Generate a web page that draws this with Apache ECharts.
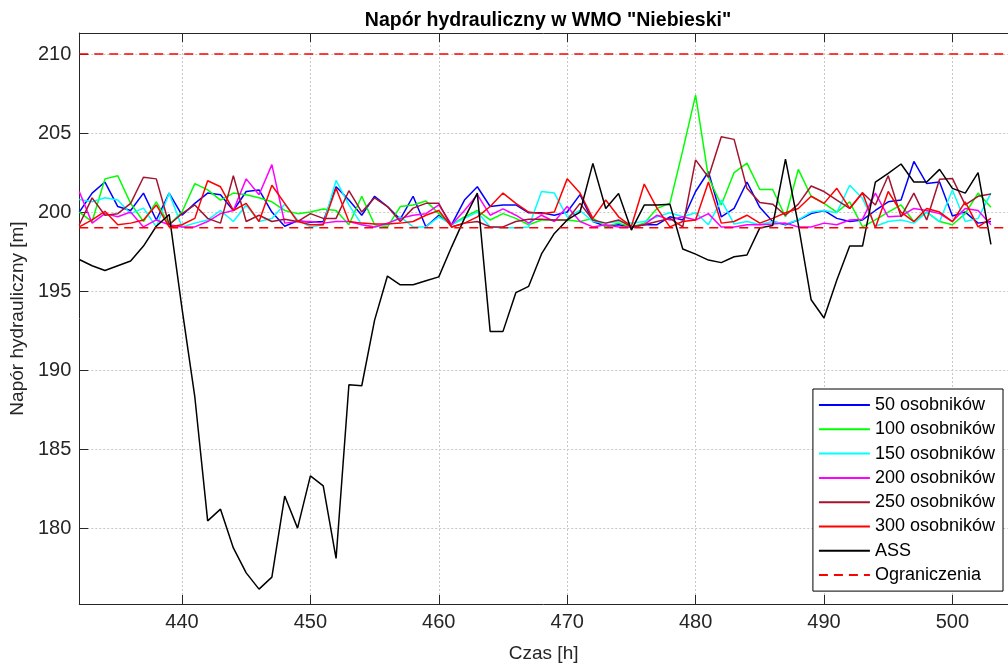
<!DOCTYPE html>
<html>
<head>
<meta charset="utf-8">
<script src="https://cdn.jsdelivr.net/npm/echarts@6/dist/echarts.min.js"></script>
<style>
html,body{margin:0;padding:0;background:#fff;}
#chart{width:1008px;height:668px;}
</style>
</head>
<body>
<div id="chart"></div>
<script>
// ---- data ----
const hours = [432,433,434,435,436,437,438,439,440,441,442,443,444,445,446,447,448,449,450,451,452,453,454,455,456,457,458,459,460,461,462,463,464,465,466,467,468,469,470,471,472,473,474,475,476,477,478,479,480,481,482,483,484,485,486,487,488,489,490,491,492,493,494,495,496,497,498,499,500,501,502,503];

const s50 = [200.0,201.2,201.9,200.35,200.1,201.2,199.5,201.2,199.8,200.55,201.2,201.1,200.1,201.3,201.4,200.0,199.1,199.45,199.35,199.4,201.6,200.76,199.8,201.0,200.35,199.55,201.0,199.06,199.8,199.2,200.76,201.6,200.35,200.45,200.45,199.95,199.95,199.8,200.0,201.1,199.4,199.1,199.2,199.06,199.2,199.2,199.7,199.5,201.3,202.55,199.7,200.23,201.9,200.3,199.4,199.2,199.5,199.9,200.1,199.6,199.4,199.5,200.1,200.65,200.76,203.2,201.8,201.9,199.75,200.0,199.3,199.4];

const s100 = [200.0,199.4,202.1,202.3,200.55,199.4,200.65,199.2,200.0,201.8,201.4,200.76,201.2,201.1,200.9,200.65,200.1,199.9,200.0,200.2,200.1,199.2,201.0,199.2,199.06,200.35,200.45,200.7,199.9,199.2,199.7,200.1,199.5,199.9,199.6,199.2,199.5,199.5,199.5,199.4,199.6,199.1,199.3,199.06,199.3,200.23,200.55,203.9,207.4,202.2,200.45,202.5,203.1,201.43,201.43,199.7,202.7,201.0,200.55,200.0,200.65,199.06,199.5,200.0,200.45,199.4,200.0,199.4,199.2,199.9,201.2,200.3];

const s150 = [200.8,200.65,200.9,200.76,199.9,200.25,199.06,201.2,199.06,199.3,199.5,200.1,199.4,200.45,199.4,199.6,200.5,199.5,199.06,199.2,202.0,200.45,199.2,199.06,199.2,199.7,199.06,199.06,199.7,199.2,199.6,200.0,199.06,199.0,199.0,199.06,201.3,201.2,199.7,200.1,199.4,199.3,199.4,199.3,199.4,199.7,199.96,199.7,199.96,199.2,200.76,199.24,199.4,199.2,199.4,199.25,199.5,200.0,200.1,199.96,201.7,200.86,199.1,199.4,199.5,199.3,200.0,199.4,201.4,199.4,199.6,201.2];

const s200 = [201.3,199.3,199.9,199.7,200.0,199.06,199.5,199.2,199.06,199.06,199.4,199.9,200.1,202.1,201.1,203.0,199.3,199.4,199.4,199.3,199.4,199.4,199.2,199.06,199.3,199.6,199.8,199.9,200.45,199.2,200.1,201.1,199.8,200.2,199.8,199.3,199.8,199.4,200.35,199.4,199.06,199.2,199.06,199.06,199.2,199.8,199.5,199.7,199.5,199.9,199.06,199.06,199.2,199.2,199.24,199.3,199.06,199.06,199.3,199.2,199.5,199.55,201.2,199.7,199.75,200.23,200.1,199.9,199.4,200.23,200.1,199.2];

const s250 = [199.2,200.9,199.8,199.9,200.55,202.2,202.1,199.2,199.9,200.45,199.6,199.3,202.3,199.4,199.8,199.4,199.55,199.4,199.9,199.6,199.6,201.35,200.0,200.9,200.35,199.4,200.25,200.55,200.55,199.06,199.3,199.4,199.06,199.06,199.4,199.55,199.55,199.5,199.5,200.55,199.5,199.3,199.5,199.06,199.2,199.4,199.6,199.06,203.3,202.2,204.77,204.6,201.5,200.6,200.5,199.8,200.5,201.65,201.3,200.76,200.23,201.22,200.45,202.3,199.7,201.2,199.5,202.07,202.13,200.45,201.0,201.14];

const s300 = [199.06,199.5,200.05,199.2,199.3,199.5,200.45,199.06,199.2,199.6,201.98,201.6,200.1,200.55,199.4,201.7,200.55,199.4,199.2,199.2,201.5,199.4,199.3,199.25,199.25,199.3,199.4,199.8,200.1,199.06,199.3,199.7,200.35,201.2,200.55,200.0,199.9,200.0,202.1,201.2,199.6,200.76,199.7,199.1,201.77,200.23,199.06,199.4,199.5,201.9,199.3,199.4,199.8,199.3,199.6,199.96,200.23,201.0,200.55,201.5,200.23,201.22,199.0,201.3,200.0,199.4,200.23,200.0,199.4,200.65,199.06,199.6];

const sASS = [197.0,196.6,196.3,196.6,196.9,197.85,199.1,199.85,193.9,188.3,180.46,181.2,178.75,177.17,176.14,176.9,182.03,180.0,183.31,182.68,178.08,189.07,189.01,193.16,195.95,195.4,195.4,195.65,195.9,197.8,199.6,201.2,192.45,192.45,194.9,195.3,197.35,198.65,199.5,200.0,203.08,200.23,201.18,198.86,200.44,200.44,200.5,197.66,197.34,196.96,196.8,197.17,197.28,199.0,199.15,203.35,199.2,194.45,193.3,195.7,197.85,197.85,201.9,202.45,203.04,201.9,201.9,202.7,201.5,201.2,202.5,197.96];

const limitLow = 199;
const limitHigh = 210;

const xTicks = [440,450,460,470,480,490,500];
const yTicks = [180,185,190,195,200,205,210];

const seriesNames = ['50 osobników','100 osobników','150 osobników','200 osobników','250 osobników','300 osobników','ASS','Ograniczenia'];
const seriesColors = ['#0000ff','#00ff00','#00ffff','#ff00ff','#a2142f','#ff0000','#000000','#ff0000'];

const xMin = 432, xMax = 504.33;
const yMin = 175.2, yMax = 211.33;

// ---- chart ----
const chart = echarts.init(document.getElementById('chart'), null, {renderer:'canvas'});
const FONT = 'Liberation Sans, Arial, sans-serif';

function pairs(vals){ return hours.map((h,i)=>[h, vals[i]]); }
const dataSets = [s50,s100,s150,s200,s250,s300,sASS];

const series = dataSets.map((vals,i)=>({
  name: seriesNames[i],
  type:'line',
  data: pairs(vals),
  showSymbol:false,
  symbol:'none',
  lineStyle:{width:1.5,color:seriesColors[i]},
  itemStyle:{color:seriesColors[i]},
  animation:false,
  z: 2
}));
[limitLow, limitHigh].forEach(v=>{
  series.push({
    name: seriesNames[7],
    type:'line',
    data: [[xMin, v],[xMax, v]],
    showSymbol:false,
    symbol:'none',
    lineStyle:{width:1.5,color:seriesColors[7],type:[9,6]},
    itemStyle:{color:seriesColors[7]},
    animation:false,
    z: 3
  });
});

const gridLine = {show:true, lineStyle:{color:'#c8c8c8', width:1, type:[2,2]}};

chart.setOption({
  backgroundColor:'#ffffff',
  animation:false,
  title:{
    text:'Napór hydrauliczny w WMO "Niebieski"',
    left: 543, top: 6, textAlign:'center',
    textStyle:{fontFamily:FONT, fontSize:19.5, fontWeight:'bold', color:'#000'}
  },
  legend:{
    orient:'vertical',
    right:5, top:389,
    data: seriesNames,
    itemWidth:51, itemHeight:14, itemGap:6.3,
    padding:[7,8,7,5],
    backgroundColor:'#ffffff',
    borderColor:'#000000', borderWidth:1,
    itemStyle:{opacity:0, borderWidth:0},
    textStyle:{fontFamily:FONT, fontSize:18, color:'#000', lineHeight:18}
  },
  grid:{left:78, right:0, top:33, bottom:64, containLabel:false},
  xAxis:[{
    type:'value', min:xMin, max:xMax,
    name:'Czas [h]', nameLocation:'middle', nameGap:40,
    nameTextStyle:{fontFamily:FONT, fontSize:19, color:'#262626'},
    axisLine:{show:true, onZero:false, lineStyle:{color:'#262626', width:1}},
    axisTick:{show:true, inside:true, length:9, customValues:xTicks, lineStyle:{color:'#262626'}},
    axisLabel:{customValues:xTicks, margin:8, fontFamily:FONT, fontSize:20, color:'#262626'},
    splitLine:Object.assign({customValues:xTicks}, gridLine)
  },{
    type:'value', min:xMin, max:xMax, position:'top',
    axisLine:{show:true, onZero:false, lineStyle:{color:'#262626', width:1}},
    axisTick:{show:true, inside:true, length:9, customValues:xTicks, lineStyle:{color:'#262626'}},
    axisLabel:{show:false},
    splitLine:{show:false}
  }],
  yAxis:[{
    type:'value', min:yMin, max:yMax,
    name:'Napór hydrauliczny [m]', nameLocation:'middle', nameGap:43, nameRotate:90,
    nameTextStyle:{fontFamily:FONT, fontSize:19, color:'#262626'},
    axisLine:{show:true, onZero:false, lineStyle:{color:'#262626', width:1}},
    axisTick:{show:true, inside:true, length:9, customValues:yTicks, lineStyle:{color:'#262626'}},
    axisLabel:{customValues:yTicks, margin:8, fontFamily:FONT, fontSize:20, color:'#262626'},
    splitLine:Object.assign({customValues:yTicks}, gridLine)
  }],
  series: series
});
</script>
</body>
</html>
